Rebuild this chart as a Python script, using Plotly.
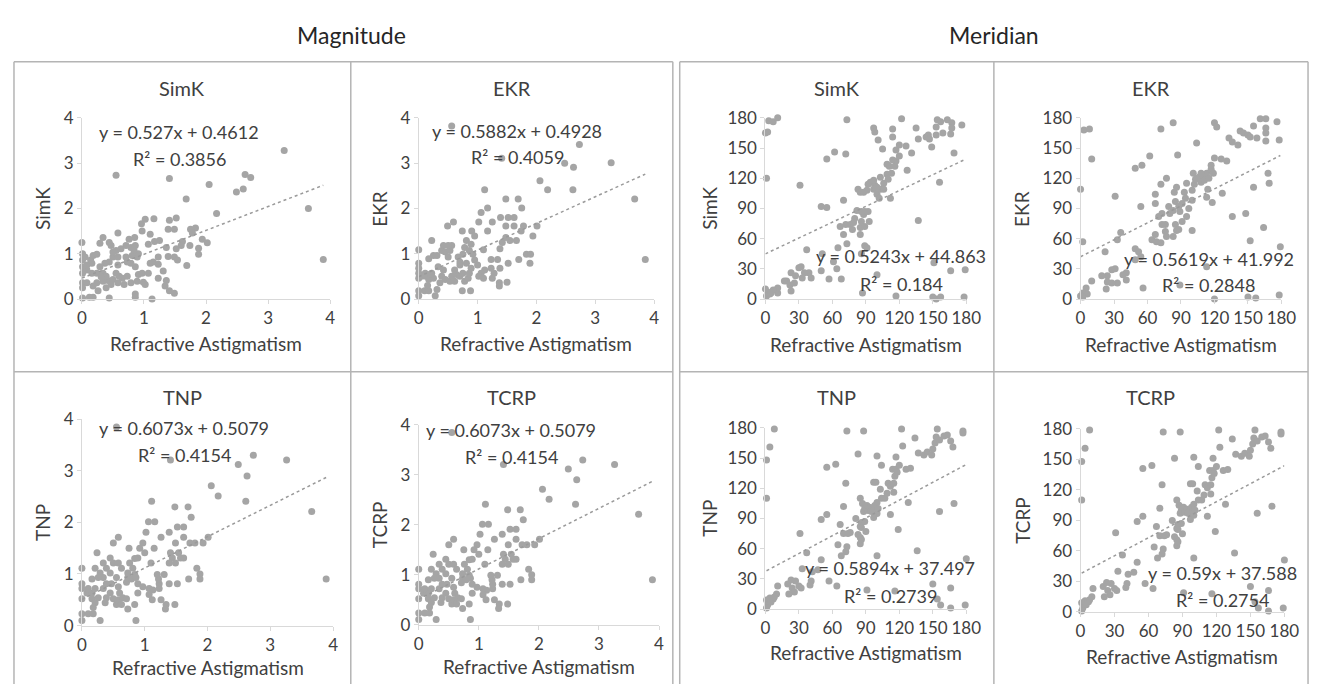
import plotly.graph_objects as go

# ---------------- data ----------------
panel_titles = ["SimK", "EKR", "SimK", "EKR", "TNP", "TCRP", "TNP", "TCRP"]
group_titles = ["Magnitude", "Meridian"]
x_title = "Refractive Astigmatism"

mag_ticks = [0, 1, 2, 3, 4]
mer_ticks = [0, 30, 60, 90, 120, 150, 180]

mag_simk_x = [0.55,1.41,1.68,2.05,2.17,2.49,2.60,2.63,2.72,3.26, 3.65,3.89,1.02,1.16,0.96,1.41,1.52,1.39,1.49,1.75,
              1.83,1.78,1.94,2.02,1.62,1.60,1.74,1.88,1.88,1.69, 0.58,0.34,0.44,0.29,0.00,0.76,0.85,0.97,1.10,1.07,
              1.17,1.25,1.36,1.52,1.39,1.49,1.54,1.23,1.15,1.10, 1.23,1.31,1.23,1.36,1.34,1.41,1.49,1.13,0.86,0.86,
              0.44,0.18,0.12,0.01,0.01,0.08,0.01,0.18,0.24,0.34, 0.42,0.50,0.58,0.65,0.73,0.60,0.55,0.68,0.79,0.89,
              0.99,1.02,0.91,0.97,1.07,0.86,0.79,0.73,0.71,0.81, 0.89,0.91,0.84,0.79,0.86,0.71,0.63,0.55,0.50,0.58,
              0.58,0.44,0.37,0.29,0.34,0.24,0.16,0.08,0.01,0.01, 0.01,0.05,0.14,0.18,0.24,0.16,0.08,0.01,0.39,0.47,
              0.39,0.26,0.31,0.47,0.50]
mag_simk_y = [2.73,2.66,2.21,2.53,1.89,2.36,2.43,2.75,2.68,3.28, 2.00,0.87,1.76,1.77,1.66,1.74,1.79,1.54,1.54,1.54,
              1.57,1.46,1.32,1.24,1.27,1.18,1.18,1.12,0.99,0.74, 1.46,1.36,1.25,1.23,1.25,1.32,1.36,1.50,1.43,1.21,
              1.27,1.29,1.14,1.11,0.94,0.93,0.86,0.93,0.82,0.79, 0.77,0.62,0.46,0.41,0.29,0.18,0.13,0.00,0.11,0.04,
              0.02,0.04,0.04,0.02,0.36,0.36,0.25,0.29,0.36,0.39, 0.41,0.43,0.36,0.46,0.50,0.50,0.57,0.32,0.36,0.39,
              0.37,0.32,0.54,0.57,0.57,0.71,0.79,0.82,0.93,0.96, 0.93,1.00,1.07,1.14,1.18,1.18,1.11,1.07,0.93,0.93,
              0.75,0.82,0.79,0.71,0.57,0.57,0.57,0.64,0.71,0.86, 1.00,0.93,0.86,0.96,0.99,0.79,0.75,0.57,0.50,0.32,
              0.25,0.18,0.49,1.18,1.04]

mag_ekr_x = [0.56,1.41,2.48,2.73,2.63,3.27,3.67,3.85,2.06,2.19, 2.62,1.12,1.48,1.69,1.75,1.17,1.06,1.25,1.02,1.39,
             1.52,1.62,1.48,1.62,1.78,2.01,1.94,1.74,1.66,1.55, 1.42,1.38,1.48,1.17,0.59,0.49,0.74,0.90,0.95,0.81,
             0.89,0.78,0.86,0.92,0.75,0.67,0.70,0.81,0.95,1.00, 1.10,1.12,1.06,1.10,1.02,1.23,1.25,1.28,1.37,1.37,
             1.23,1.34,1.38,1.52,1.50,1.70,1.83,1.90,1.89,0.74, 0.88,0.28,0.00,0.00,0.10,0.17,0.00,0.00,0.00,0.00,
             0.00,0.11,0.17,0.22,0.25,0.17,0.25,0.22,0.31,0.39, 0.42,0.45,0.53,0.56,0.50,0.33,0.42,0.39,0.36,0.45,
             0.53,0.56,0.61,0.64,0.70,0.75,0.78,0.84,0.86,0.89, 0.61,0.70,0.31,0.50,0.05,0.12,0.20,0.15]
mag_ekr_y = [3.82,3.11,3.00,3.41,2.91,3.01,2.21,0.87,2.61,2.41, 2.41,2.41,2.21,2.21,2.01,2.01,1.91,1.70,1.70,1.80,
             1.80,1.80,1.61,1.61,1.61,1.61,1.39,1.50,1.29,1.29, 1.25,1.11,1.36,1.50,1.70,1.61,1.50,1.50,1.39,1.29,
             1.21,1.14,1.07,0.99,0.99,0.93,0.82,0.79,0.86,0.75, 1.09,0.64,0.57,0.46,0.50,0.68,0.46,0.57,0.36,0.29,
             0.87,0.87,0.68,0.79,0.37,0.87,0.99,0.99,0.79,0.18, 0.18,0.07,0.07,0.18,0.18,0.18,0.46,0.57,0.79,1.09,
             0.68,0.57,0.43,0.57,0.46,0.89,0.96,1.29,0.96,1.07, 1.18,1.04,1.07,1.18,0.93,0.71,0.64,0.50,0.36,0.43,
             0.39,0.50,0.39,0.54,0.50,0.57,0.39,0.46,0.57,0.68, 0.64,0.75,0.21,1.18,0.50,0.50,0.55,0.30]

mag_tnp_x = [0.55,1.41,2.73,2.49,3.26,2.63,2.06,2.17,2.61,3.66, 3.89,1.11,1.48,1.69,1.74,1.06,1.16,1.02,1.39,1.52,
             1.62,1.26,1.62,1.49,1.72,1.80,1.93,2.01,1.62,1.54, 1.41,1.44,1.49,1.39,1.57,1.15,1.10,0.97,0.92,1.00,
             0.89,0.84,0.50,0.58,0.75,0.24,0.45,0.50,0.58,0.34, 0.39,0.21,0.29,0.00,0.45,0.55,0.63,0.76,0.81,0.73,
             0.84,0.73,0.71,0.79,0.86,0.89,0.97,1.07,1.13,1.23, 1.39,1.52,1.23,1.07,1.12,1.26,1.34,1.33,1.48,1.22,
             1.31,1.20,1.70,1.83,1.88,1.88,0.86,0.29,0.00,0.00, 0.10,0.18,0.00,0.00,0.00,0.08,0.16,0.16,0.21,0.18,
             0.26,0.34,0.39,0.37,0.45,0.50,0.55,0.58,0.60,0.63, 0.65,0.71,0.73,0.84,0.89,0.58,0.47,0.39,0.34,0.26,
             0.16,0.10,0.21]
mag_tnp_y = [3.85,3.21,3.30,3.12,3.21,2.90,2.71,2.51,2.41,2.21, 0.90,2.41,2.30,2.30,2.10,2.01,2.01,1.81,1.81,1.91,
             1.91,1.71,1.71,1.60,1.60,1.60,1.60,1.71,1.31,1.41, 1.41,1.31,1.21,1.21,1.31,1.50,1.21,1.60,1.50,1.41,
             1.31,1.30,1.60,1.71,1.50,1.41,1.31,1.21,1.21,1.21, 1.11,1.11,1.02,1.11,1.02,0.93,1.11,1.21,1.11,1.02,
             0.99,0.93,0.84,0.90,0.93,0.81,0.75,0.72,0.69,0.81, 0.81,0.81,0.72,0.60,0.50,0.50,0.41,0.32,0.41,0.90,
             0.99,0.99,0.90,1.11,1.00,0.90,0.10,0.10,0.10,0.23, 0.23,0.23,0.81,0.72,0.52,0.63,0.63,0.52,0.44,0.35,
             0.54,0.72,0.54,0.44,0.63,0.52,0.41,0.50,0.63,0.41, 0.54,0.52,0.32,0.41,0.63,0.75,0.81,0.81,0.93,0.93,
             0.90,0.72,0.72]

# TCRP magnitude has the same equation and R² as TNP: the same points
mag_tcrp_x = mag_tnp_x
mag_tcrp_y = mag_tnp_y

mer_simk_x = [1,0,2,3,7,11,31,55,62,72, 73,50,55,70,37,30,32,23,19,22, 26,27,33,39,41,23,35,17,11,11,
              7,2,1,4,0,5,50,51,57,64, 68,65,67,70,73,72,76,79,78,80, 82,85,85,86,88,89,92,93,89,86,
              83,85,91,94,97,100,102,98,103,106, 109,113,111,116,117,114,117,120,120,114,
              114,122,126,131,127,135,137,144,146,147, 149,153,153,154,157,159,163,166,167,167,
              176,169,156,137,112,97,98,101,105,109, 97,92,88,100,87,89,91,86,117,151,
              153,157,166,179,178,150,103,106,110,100, 61]
mer_simk_y = [120,165,166,177,176,180,113,139,146,144, 178,92,91,98,49,31,32,26,18,14, 16,23,21,26,21,8,26,18,6,11,
              9,7,3,5,10,6,28,45,20,30, 20,51,72,64,55,74,74,76,69,80, 88,71,64,77,84,87,87,77,72,87,
              109,106,108,116,109,104,100,113,121,115, 124,125,132,132,137,138,148,153,142,161,
              169,179,152,145,128,170,159,161,163,159, 151,163,171,178,176,165,178,164,175,170,
              173,145,116,78,100,170,166,158,149,134, 118,114,106,24,6,53,51,45,3,36,
              0,2,28,29,2,2,109,109,119,111, 37]

mer_ekr_x = [0,2,3,8,10,31,36,33,22,49, 55,62,72,83,87,104,54,67,67,72, 77,70,73,76,73,76,64,68,72,83,
             80,83,85,84,86,88,89,91,93,94, 97,95,91,85,88,86,100,100,100,102, 101,103,106,108,110,111,113,115,117,117,
             119,120,114,113,118,120,122,126,131,127, 133,136,141,143,146,150,152,155,158,161,
             166,166,166,166,176,178,168,169,155,136, 148,164,152,179,178,120,150,157,113,89,
             77,56,49,52,49,54,41,41,38,33, 28,28,31,24,19,24,23,10,5,6, 2,0,2,79,95,108,67]
mer_ekr_y = [109,57,168,169,139,102,66,59,47,130, 133,142,169,175,143,155,92,95,104,114, 120,82,85,74,74,67,59,57,56,62,
             85,88,97,106,111,92,87,95,106,100, 90,82,77,74,69,68,68,98,108,114, 125,119,121,116,123,118,125,120,129,133,
             125,140,109,101,96,175,171,139,137,105, 160,156,153,167,165,163,161,172,160,179,
             179,170,165,157,176,158,125,115,111,82, 85,71,58,52,4,0,2,1,32,14,
             62,11,50,47,39,42,19,26,24,16, 16,29,30,23,23,17,10,18,11,5, 6,3,2,92,115,125,64]

mer_tnp_x = [1,4,8,1,31,37,55,63,55,50, 73,88,83,72,70,67,65,68,73,72, 70,74,76,81,83,85,86,85,87,88,
             89,91,92,94,95,97,98,100,100,101, 97,89,86,85,85,86,90,97,99,100, 103,104,107,109,110,112,115,115,116,114,
             117,117,118,120,123,122,126,130,128,112, 119,104,134,137,142,145,149,150,152,153,
             154,156,160,163,166,168,177,177,156,169, 136,100,91,150,154,157,166,166,179,180,
             116,57,64,47,50,42,41,40,33,27, 24,20,23,30,32,26,21,11,10,7, 4,1,2,5,8,1]
mer_tnp_y = [148,161,179,110,75,56,141,144,94,89, 177,177,154,125,102,84,64,53,62,57, 75,75,76,90,74,82,86,110,105,97,
             100,103,98,101,97,100,103,95,106,100, 91,87,81,71,65,69,77,126,126,152, 119,110,110,115,125,122,125,116,132,139,
             151,139,136,143,162,179,139,140,106,94, 79,143,170,155,153,156,153,159,165,171,
             179,168,172,173,167,161,177,175,97,105, 58,53,19,25,10,4,1,21,4,50,
             18,28,23,39,49,37,28,24,40,28, 21,25,29,23,21,17,15,23,15,10, 11,9,4,7,12,1]

mer_tcrp_x = mer_tnp_x
mer_tcrp_y = [148,161,179,110,78,56,141,144,94,89, 177,177,151,125,102,84,64,53,62,57, 75,75,76,90,74,82,86,110,105,97,
              100,103,98,101,97,100,103,95,106,100, 91,87,81,71,65,69,77,126,126,152, 119,110,110,115,125,122,125,116,132,139,
              151,139,136,143,162,179,139,140,106,94, 79,143,170,155,153,156,153,159,165,171,
              179,168,172,173,167,161,177,175,97,104, 58,53,19,25,10,4,1,21,4,51,
              18,28,23,39,49,37,28,24,40,28, 21,25,29,23,21,17,15,23,15,10, 11,9,4,7,12,1]

slopes = [0.527, 0.5882, 0.5243, 0.5619, 0.6073, 0.6073, 0.5894, 0.59]
intercepts = [0.4612, 0.4928, 44.863, 41.992, 0.5079, 0.5079, 37.497, 37.588]
r_squared = [0.3856, 0.4059, 0.184, 0.2848, 0.4154, 0.4154, 0.2739, 0.2754]

series_x = [mag_simk_x, mag_ekr_x, mer_simk_x, mer_ekr_x, mag_tnp_x, mag_tcrp_x, mer_tnp_x, mer_tcrp_x]
series_y = [mag_simk_y, mag_ekr_y, mer_simk_y, mer_ekr_y, mag_tnp_y, mag_tcrp_y, mer_tnp_y, mer_tcrp_y]
is_meridian = [False, False, True, True, False, False, True, True]

# ---------------- layout geometry (pixels in the page) ----------------
OFF = 8            # browser body margin
W, H = 1325 - OFF, 684 - OFF
def fx(px):
    return (px - OFF) / W
def fy(py):
    return 1 - (py - OFF) / H

# plot area: x-left, x-right, y-bottom, y-top (page pixels)
plot_px = [(78, 330, 297, 110), (420, 659, 297, 110), (772, 976, 297, 110), (1092, 1296, 297, 110),
           (78, 333, 634, 421), (420, 664, 633, 427), (772, 976, 617, 430), (1092, 1299, 620, 431)]
# panel box: x-left, x-right, y-top
panel_box = [(9, 351, 52), (351, 678, 52), (685, 1004, 52), (1004, 1323, 52),
             (9, 351, 372), (351, 678, 372), (685, 1004, 372), (1004, 1323, 372)]
eq_pos = [(177, 125, 152), (520, 124, 150), (910, 253, 281), (1222, 256, 283),
          (182, 430, 458), (514, 432, 460), (899, 575, 603), (1236, 580, 608)]
ytitle_x = [38, 380, 715, 1032, 38, 380, 715, 1033]
xtitle_y = [343, 343, 344, 344, 677, 676, 662, 666]
title_y = [79, 79, 79, 79, 398, 398, 398, 398]

FONT = "Lato, Noto Sans, sans-serif"
TXT = "#404040"
PT = "#a5a5a5"
AX = "#d9d9d9"
BOX = "#b4b4b4"

fig = go.Figure()
annotations = []
layout_axes = {}

for i in range(8):
    k = "" if i == 0 else str(i + 1)
    xs, ys = series_x[i], series_y[i]
    fig.add_trace(go.Scatter(x=xs, y=ys, mode="markers", xaxis="x" + k, yaxis="y" + k,
                             marker=dict(color=PT, size=7, line=dict(width=0)),
                             cliponaxis=False, showlegend=False, hoverinfo="x+y"))
    x0, x1 = min(xs), max(xs)
    fig.add_trace(go.Scatter(x=[x0, x1], y=[slopes[i] * x0 + intercepts[i], slopes[i] * x1 + intercepts[i]],
                             mode="lines", xaxis="x" + k, yaxis="y" + k,
                             line=dict(color="#9a9a9a", width=1.5, dash="dot"),
                             cliponaxis=False, showlegend=False, hoverinfo="skip"))
    ticks = mer_ticks if is_meridian[i] else mag_ticks
    rng = [ticks[0], ticks[-1]]
    xl, xr, yb, yt = plot_px[i]
    common = dict(range=rng, tickvals=ticks, showgrid=False, zeroline=False, showline=True,
                  linecolor=AX, linewidth=1, ticks="outside", ticklen=4, tickcolor=AX,
                  tickfont=dict(family=FONT, size=17, color=TXT), fixedrange=True)
    layout_axes["xaxis" + k] = dict(domain=[fx(xl), fx(xr)], anchor="y" + k, **common)
    layout_axes["yaxis" + k] = dict(domain=[fy(yb), fy(yt)], anchor="x" + k, **common)

    bl, br, bt = panel_box[i]
    annotations.append(dict(x=fx((bl + br) / 2), y=fy(title_y[i]), text=panel_titles[i],
                            font=dict(family=FONT, size=20, color=TXT)))
    annotations.append(dict(x=fx((xl + xr) / 2), y=fy(xtitle_y[i]), text=x_title,
                            font=dict(family=FONT, size=19, color=TXT)))
    annotations.append(dict(x=fx(ytitle_x[i]), y=fy((yb + yt) / 2), text=panel_titles[i], textangle=-90,
                            font=dict(family=FONT, size=19, color=TXT)))
    ex, ey1, ey2 = eq_pos[i]
    annotations.append(dict(x=fx(ex), y=fy(ey1), text=f"y = {slopes[i]}x + {intercepts[i]}",
                            font=dict(family=FONT, size=18, color=TXT)))
    annotations.append(dict(x=fx(ex), y=fy(ey2), text=f"R² = {r_squared[i]}",
                            font=dict(family=FONT, size=18, color=TXT)))

annotations.append(dict(x=fx(352), y=fy(25), text=group_titles[0], font=dict(family=FONT, size=23, color="#262626")))
annotations.append(dict(x=fx(1004), y=fy(25), text=group_titles[1], font=dict(family=FONT, size=23, color="#262626")))
for a in annotations:
    a.update(xref="paper", yref="paper", xanchor="center", yanchor="middle", showarrow=False, borderpad=0)

shapes = []
def line(xa, ya, xb, yb):
    shapes.append(dict(type="line", xref="paper", yref="paper", x0=fx(xa), y0=fy(ya), x1=fx(xb), y1=fy(yb),
                       line=dict(color=BOX, width=1.5), layer="below"))
# Magnitude box
line(9, 52, 678, 52); line(9, 52, 9, 700); line(678, 52, 678, 700)
line(351, 52, 351, 700); line(9, 372, 678, 372)
# Meridian box
line(685, 52, 1323, 52); line(685, 52, 685, 700); line(1323, 52, 1323, 700)
line(1004, 52, 1004, 700); line(685, 372, 1323, 372)

fig.update_layout(width=W, height=H, margin=dict(l=0, r=0, t=0, b=0), paper_bgcolor="white",
                  plot_bgcolor="rgba(0,0,0,0)", annotations=annotations, shapes=shapes,
                  font=dict(family=FONT, color=TXT), **layout_axes)
fig.write_html("out.html")
